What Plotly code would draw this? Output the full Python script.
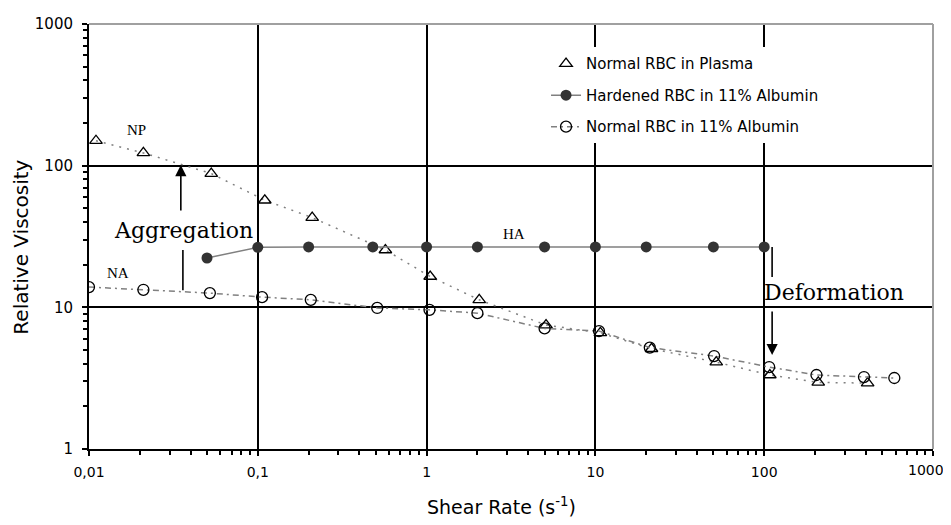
import plotly.graph_objects as go

# Normal RBC in Plasma (NP)
np_x = [0.011, 0.021, 0.053, 0.11, 0.21, 0.57, 1.05, 2.05, 5.1, 10.7, 21.5, 52, 108, 209, 410]
np_y = [150, 123, 88, 57, 43, 25.4, 16.5, 11.3, 7.5, 6.6, 5.1, 4.1, 3.33, 2.95, 2.92]

# Hardened RBC in 11% Albumin (HA)
ha_x = [0.05, 0.1, 0.2, 0.48, 1.0, 2.0, 5.0, 10, 20, 50, 100]
ha_y = [22.3, 26.5, 26.7, 26.7, 26.7, 26.7, 26.7, 26.7, 26.7, 26.7, 26.7]

# Normal RBC in 11% Albumin (NA)
na_x = [0.01, 0.021, 0.052, 0.106, 0.206, 0.51, 1.04, 2.0, 5.0, 10.5, 21, 50.5, 107, 204, 390, 590]
na_y = [13.9, 13.3, 12.6, 11.8, 11.3, 9.9, 9.6, 9.1, 7.1, 6.8, 5.2, 4.53, 3.79, 3.33, 3.22, 3.17]

x_tickvals = [0.01, 0.1, 1, 10, 100, 1000]
x_ticktext = ["0,01", "0,1", "1", "10", "100", ""]
x_last_label = "1000"
y_tickvals = [1, 10, 100, 1000]
y_ticktext = ["1", "10", "100", "1000"]
x_minor = [m * 10 ** e for e in range(-2, 3) for m in range(2, 10)]
y_minor = [m * 10 ** e for e in range(0, 3) for m in range(2, 10)]

GRAY = "#808080"
SANS = "DejaVu Sans"
SERIF_BIG = "DejaVu Serif"
SERIF = "Liberation Serif"

fig = go.Figure()

fig.add_trace(go.Scatter(x=np_x, y=np_y, mode="lines", showlegend=False,
                         line=dict(color=GRAY, dash="2px,6px", width=1.5)))
fig.add_trace(go.Scatter(x=np_x, y=np_y, mode="markers", name="Normal RBC in Plasma",
                         legendgroup="a",
                         marker=dict(symbol="triangle-up-open", size=11, color="black",
                                     line=dict(width=1.3))))
fig.add_trace(go.Scatter(x=ha_x, y=ha_y, mode="lines+markers", name="Hardened RBC in 11% Albumin",
                         legendgroup="b",
                         line=dict(color=GRAY, width=1.5),
                         marker=dict(symbol="circle", size=11, color="#333333")))
fig.add_trace(go.Scatter(x=na_x, y=na_y, mode="lines+markers", name="Normal RBC in 11% Albumin",
                         legendgroup="c",
                         line=dict(color=GRAY, dash="6px,4px,2px,4px", width=1.5),
                         marker=dict(symbol="circle-open", size=11, color="black",
                                     line=dict(width=1.3))))

# text labels: (log10 x, log10 y)
ann = [
    dict(x=-1.72, y=2.251, text="NP", family=SERIF, size=15),
    dict(x=-1.828, y=1.242, text="NA", family=SERIF, size=15),
    dict(x=0.515, y=1.517, text="HA", family=SERIF, size=15),
    dict(x=-1.438, y=1.545, text="Aggregation", family=SERIF_BIG, size=22),
    dict(x=2.414, y=1.108, text="Deformation", family=SERIF_BIG, size=22),
]
annotations = [dict(x=a["x"], y=a["y"], xref="x", yref="y", text=a["text"], showarrow=False,
                    font=dict(family=a["family"], size=a["size"], color="black"))
               for a in ann]
# arrows
annotations.append(dict(x=-1.456, y=2.004, ax=-1.456, ay=1.673, xref="x", yref="y",
                        axref="x", ayref="y", text="", showarrow=True, arrowhead=2,
                        arrowsize=1.4, arrowwidth=1.6, arrowcolor="black"))
annotations.append(dict(x=2.047, y=0.663, ax=2.047, ay=0.981, xref="x", yref="y",
                        axref="x", ayref="y", text="", showarrow=True, arrowhead=2,
                        arrowsize=1.4, arrowwidth=1.6, arrowcolor="black"))
# last x tick label, kept inside the page
annotations.append(dict(x=1.0154, y=-0.049, xref="paper", yref="paper", text=x_last_label,
                        xanchor="right", yanchor="middle", showarrow=False,
                        font=dict(family=SANS, size=14, color="black")))
# axis titles
annotations.append(dict(x=-0.0806, y=0.476, xref="paper", yref="paper", text="Relative Viscosity",
                        xanchor="center", yanchor="middle",
                        textangle=-90, showarrow=False, font=dict(family=SANS, size=20, color="black")))
annotations.append(dict(x=0.489, y=-0.134, xref="paper", yref="paper",
                        text="Shear Rate (s<sup>-1</sup>)", xanchor="center", yanchor="middle",
                        showarrow=False, font=dict(family=SANS, size=19, color="black")))

shapes = [
    dict(type="line", xref="x", yref="y", x0=0.036, x1=0.036, y0=13.2, y1=25.4,
         line=dict(color="black", width=1.6)),
    dict(type="line", xref="x", yref="y", x0=111.4, x1=111.4, y0=16.4, y1=26.7,
         line=dict(color="black", width=1.6)),
    dict(type="line", xref="paper", yref="paper", x0=0, x1=1, y0=1, y1=1,
         line=dict(color="#a0a0a0", width=2), layer="above"),
    dict(type="line", xref="paper", yref="paper", x0=1, x1=1, y0=0, y1=1,
         line=dict(color="#a0a0a0", width=2), layer="above"),
]

fig.update_layout(
    width=943, height=509,
    margin=dict(l=81, r=18, t=16, b=68),
    paper_bgcolor="white", plot_bgcolor="white",
    font=dict(family=SANS, size=15, color="black"),
    showlegend=True,
    legend=dict(x=0.5415, y=0.945, xanchor="left", yanchor="top",
                bgcolor="white", borderwidth=0, traceorder="grouped",
                tracegroupgap=9, font=dict(family=SANS, size=15)),
    annotations=annotations,
    shapes=shapes,
)
fig.update_xaxes(type="log", range=[-2, 3], tickvals=x_tickvals, ticktext=x_ticktext,
                 automargin=False,
                 showgrid=True, gridcolor="black", gridwidth=2,
                 showline=True, linecolor="black", linewidth=2,
                 ticks="outside", ticklen=5, tickcolor="black", tickwidth=1.5,
                 ticklabelstandoff=4,
                 tickfont=dict(family=SANS, size=14),
                 minor=dict(tickvals=x_minor, ticks="outside", ticklen=4, tickcolor="black",
                            showgrid=False),
                 zeroline=False)
fig.update_yaxes(type="log", range=[0, 3], tickvals=y_tickvals, ticktext=y_ticktext,
                 automargin=False,
                 showgrid=True, gridcolor="black", gridwidth=2,
                 showline=True, linecolor="black", linewidth=2,
                 ticks="outside", ticklen=5, tickcolor="black", tickwidth=1.5,
                 ticklabelstandoff=6,
                 tickfont=dict(family=SANS, size=15),
                 minor=dict(tickvals=y_minor, ticks="outside", ticklen=4, tickcolor="black",
                            showgrid=False),
                 zeroline=False)

fig.write_html("out.html")
